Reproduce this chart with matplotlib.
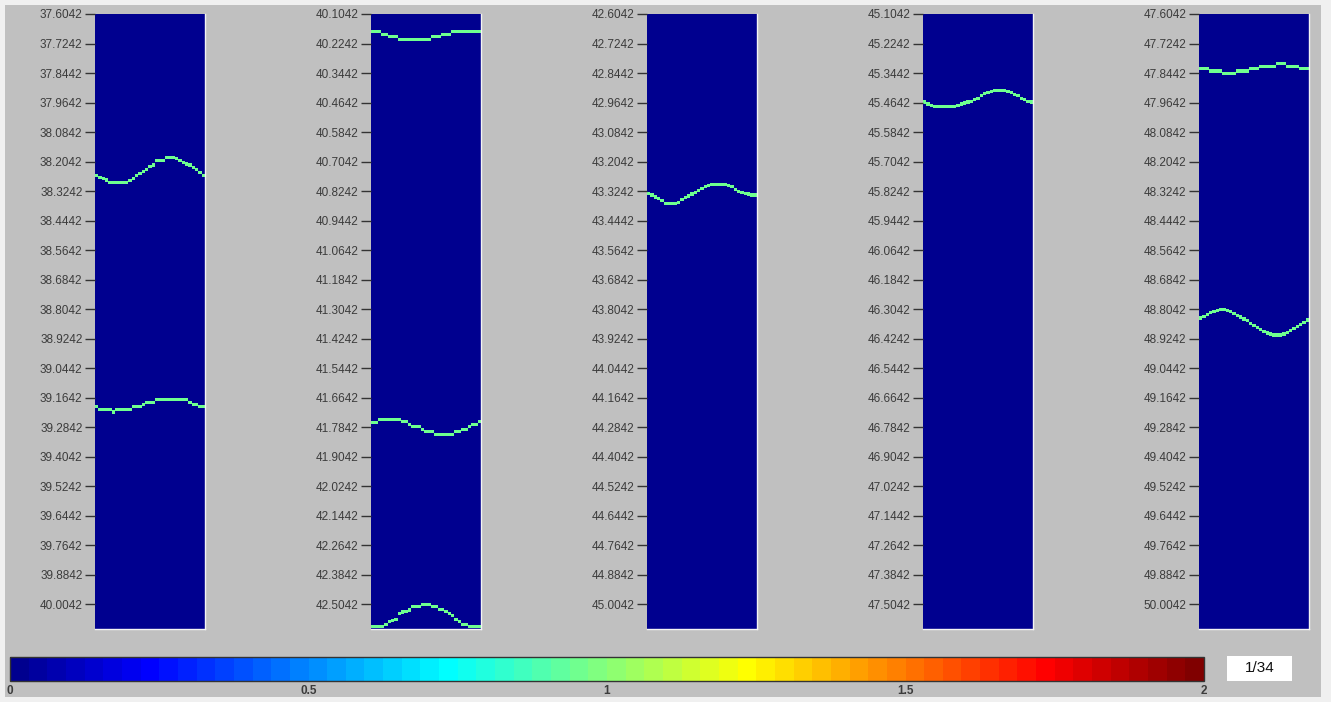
import numpy as np
import matplotlib
matplotlib.use("Agg")
import matplotlib.pyplot as plt
from matplotlib.colors import ListedColormap, Normalize
from matplotlib.cm import ScalarMappable
from matplotlib.patches import Rectangle

# depth window of each strip (top value, 2.5 units tall, ticks every 0.12)
panel_tops = [37.6042, 40.1042, 42.6042, 45.1042, 47.6042]
span = 2.5
tick_step = 0.12
n_ticks = 21

# interface depth per column (33 columns per strip)
p1_upper = [38.259, 38.270, 38.274, 38.279, 38.290, 38.290, 38.290, 38.290, 38.290, 38.290, 38.282,
            38.272, 38.259, 38.251, 38.245, 38.236, 38.226, 38.218, 38.201, 38.201, 38.198, 38.187,
            38.187, 38.187, 38.192, 38.198, 38.209, 38.214, 38.218, 38.227, 38.238, 38.247, 38.259]
p1_lower = [39.198, 39.211, 39.211, 39.211, 39.211, 39.222, 39.211, 39.211, 39.211, 39.211, 39.211,
            39.200, 39.200, 39.200, 39.192, 39.184, 39.184, 39.184, 39.170, 39.170, 39.170, 39.170,
            39.170, 39.170, 39.170, 39.170, 39.170, 39.170, 39.184, 39.192, 39.192, 39.198, 39.198]
p2_upper = [40.177, 40.177, 40.177, 40.186, 40.186, 40.194, 40.194, 40.194, 40.207, 40.207, 40.207,
            40.207, 40.207, 40.207, 40.207, 40.207, 40.207, 40.207, 40.197, 40.197, 40.197, 40.186,
            40.186, 40.186, 40.176, 40.176, 40.176, 40.176, 40.176, 40.176, 40.176, 40.176, 40.176]
p2_middle = [41.763, 41.763, 41.752, 41.752, 41.752, 41.752, 41.752, 41.752, 41.752, 41.762, 41.762,
             41.771, 41.782, 41.782, 41.782, 41.792, 41.801, 41.801, 41.801, 41.812, 41.812, 41.812,
             41.812, 41.812, 41.812, 41.801, 41.801, 41.792, 41.792, 41.782, 41.774, 41.774, 41.762]
p2_lower = [42.595, 42.595, 42.595, 42.595, 42.584, 42.575, 42.568, 42.565, 42.543, 42.535, 42.534,
            42.527, 42.514, 42.514, 42.514, 42.503, 42.503, 42.503, 42.514, 42.514, 42.524, 42.524,
            42.534, 42.543, 42.551, 42.565, 42.572, 42.584, 42.584, 42.595, 42.595, 42.595, 42.595]
p3_line = [43.332, 43.340, 43.348, 43.356, 43.364, 43.373, 43.373, 43.373, 43.373, 43.369, 43.360,
           43.352, 43.344, 43.336, 43.328, 43.320, 43.312, 43.307, 43.303, 43.299, 43.299, 43.299,
           43.299, 43.299, 43.303, 43.307, 43.316, 43.324, 43.328, 43.332, 43.336, 43.340, 43.340]
p4_line = [45.462, 45.470, 45.478, 45.482, 45.482, 45.482, 45.482, 45.482, 45.482, 45.482, 45.478,
           45.470, 45.466, 45.462, 45.458, 45.450, 45.446, 45.437, 45.429, 45.425, 45.421, 45.417,
           45.417, 45.417, 45.417, 45.421, 45.425, 45.433, 45.437, 45.446, 45.450, 45.458, 45.462]
p5_upper = [47.825, 47.825, 47.825, 47.836, 47.836, 47.836, 47.836, 47.847, 47.847, 47.847, 47.847,
            47.836, 47.836, 47.836, 47.836, 47.827, 47.827, 47.827, 47.816, 47.816, 47.816, 47.816,
            47.816, 47.807, 47.807, 47.807, 47.816, 47.816, 47.816, 47.816, 47.827, 47.827, 47.827]
p5_lower = [48.840, 48.832, 48.824, 48.816, 48.812, 48.808, 48.804, 48.804, 48.808, 48.812, 48.820,
            48.828, 48.836, 48.844, 48.852, 48.861, 48.869, 48.877, 48.885, 48.893, 48.901, 48.905,
            48.909, 48.909, 48.909, 48.905, 48.897, 48.889, 48.881, 48.873, 48.865, 48.857, 48.848]

panel_lines = [[p1_upper, p1_lower], [p2_upper, p2_middle, p2_lower], [p3_line],
               [p4_line], [p5_upper, p5_lower]]
line_value = 0.95
vmin, vmax = 0.0, 2.0
cbar_ticks = [0, 0.5, 1, 1.5, 2]
cbar_labels = ["0", "0.5", "1", "1.5", "2"]
frame_label = "1/34"


def matlab_jet(n=64):
    m = int(np.ceil(n / 4))
    u = np.concatenate([np.arange(1, m + 1) / m, np.ones(m - 1), np.arange(m, 0, -1) / m])
    g = int(np.ceil(m / 2)) - (1 if n % 4 == 1 else 0) + np.arange(1, len(u) + 1)
    r = g + m
    b = g - m
    J = np.zeros((n, 3))
    for ch, idx in enumerate([r, g, b]):
        ok = (idx >= 1) & (idx <= n)
        J[idx[ok] - 1, ch] = u[ok]
    return ListedColormap(J)


cmap = matlab_jet(64)
norm = Normalize(vmin, vmax)

W, H = 1331, 702
fig = plt.figure(figsize=(W / 100, H / 100), dpi=100, facecolor="#f0f0f0")
fig.patches.append(Rectangle((5 / W, 5 / H), 1316 / W, 692 / H, transform=fig.transFigure,
                             facecolor="#c0c0c0", edgecolor="none", zorder=-10))

n_rows = 615
dy = span / n_rows
half_width = 0.0062

for i, (top, lines) in enumerate(zip(panel_tops, panel_lines)):
    left = 95 + 276 * i
    ax = fig.add_axes([left / W, (H - 629) / H, 110 / W, 615 / H])
    n_cols = len(lines[0])
    centers = top + (np.arange(n_rows) + 0.5) * dy
    field = np.zeros((n_rows, n_cols))
    for line in lines:
        for c, v in enumerate(line):
            field[np.abs(centers - v) <= half_width, c] = line_value
    ax.imshow(field, cmap=cmap, norm=norm, aspect="auto", interpolation="nearest",
              extent=[0, n_cols, top + span, top], origin="upper")
    ax.set_ylim(top + span, top)
    ax.set_xlim(0, n_cols)
    ticks = top + tick_step * np.arange(n_ticks)
    ax.set_yticks(ticks)
    ax.set_yticklabels([f"{t:.4f}" for t in ticks], fontsize=8.5, color="#3c3c3c",
                       family="Liberation Sans")
    ax.set_xticks([])
    ax.tick_params(axis="y", length=7, width=1, color="#333333", pad=2)
    for side in ["top", "left"]:
        ax.spines[side].set_visible(False)
    for side in ["right", "bottom"]:
        ax.spines[side].set_color("#f4f4f4")
        ax.spines[side].set_linewidth(1)

# colour scale along the bottom
cax = fig.add_axes([10 / W, (H - 681) / H, 1194 / W, 24 / H])
cb = fig.colorbar(ScalarMappable(norm=norm, cmap=cmap), cax=cax, orientation="horizontal")
cb.set_ticks(cbar_ticks)
cb.set_ticklabels(cbar_labels)
cb.outline.set_edgecolor("#333333")
cb.outline.set_linewidth(1)
cax.tick_params(length=0, pad=3, labelsize=8.5, labelcolor="#3c3c3c")
for lab in cax.get_xticklabels():
    lab.set_fontweight("bold")
    lab.set_family("Liberation Sans")

# frame counter box
tax = fig.add_axes([1227 / W, (H - 681) / H, 65 / W, 25 / H])
tax.set_facecolor("white")
tax.set_xticks([])
tax.set_yticks([])
for s in tax.spines.values():
    s.set_visible(False)
tax.text(0.5, 0.5, frame_label, ha="center", va="center", fontsize=11,
         family="Liberation Sans", color="#111111", transform=tax.transAxes)

fig.savefig("out.png", dpi=100, facecolor=fig.get_facecolor())
